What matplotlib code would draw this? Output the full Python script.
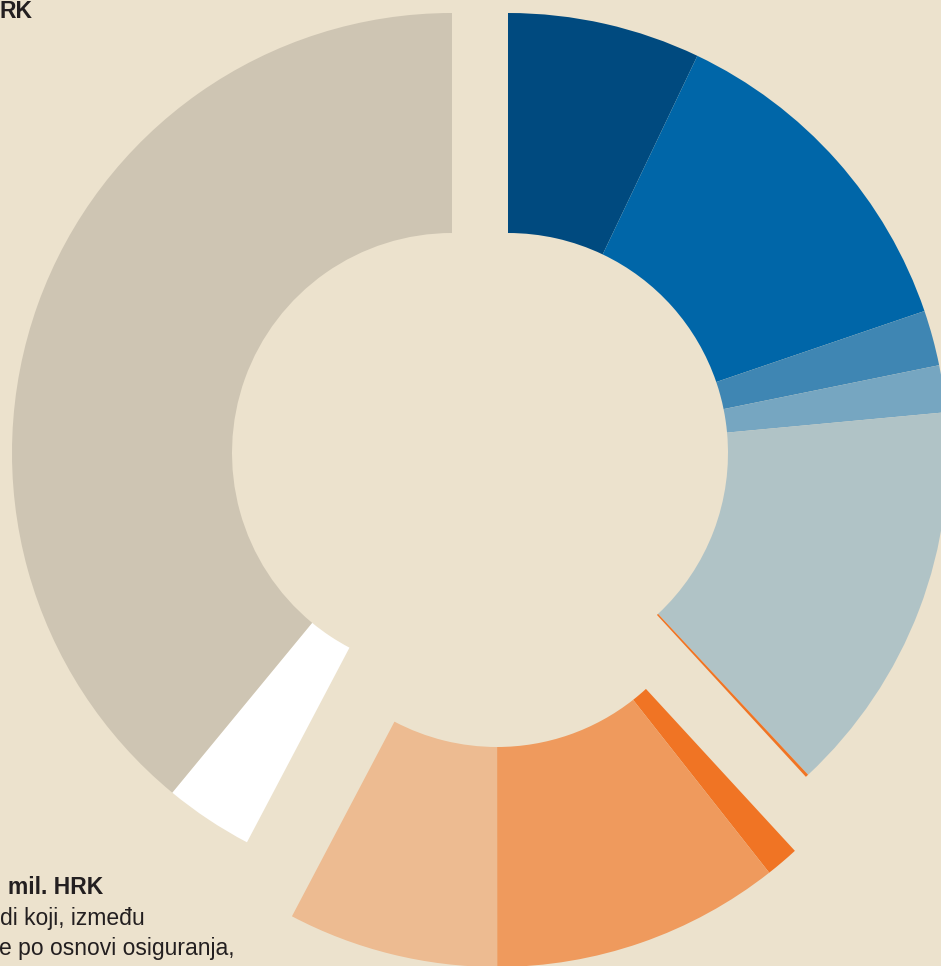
import matplotlib.pyplot as plt
from matplotlib.patches import Wedge

# udjeli (u %), redom u smjeru kazaljke od 12 sati
plava_grupa = [7.08, 12.69, 2.03, 1.72, 14.53, 0.11]
narancasta_grupa = [1.22, 10.61, 7.72]
siva_grupa = [3.25, 39.03]

plave_boje = ['#004a7f', '#0066a8', '#3f86b3', '#76a6c1', '#b0c3c6', '#f07424']
narancaste_boje = ['#f07424', '#ef9a5d', '#edbb91']
sive_boje = ['#ffffff', '#cec5b3']

tekst_gore = "RK"
tekst_dolje = ["mil. HRK", "di koji, između", "e po osnovi osiguranja,"]

bg = '#ece2cd'
W, H = 941, 966

fig = plt.figure(figsize=(W / 100, H / 100), dpi=100)
fig.patch.set_facecolor(bg)
ax = fig.add_axes([0, 0, 1, 1])
ax.set_facecolor(bg)
ax.set_xlim(0, W)
ax.set_ylim(0, H)
ax.set_aspect('equal')
ax.axis('off')

R = 440
sirina = 220
# svaka grupa je malo izmaknuta od sredine
grupe = [
    (plava_grupa, plave_boje, (508, H - 453)),
    (narancasta_grupa, narancaste_boje, (497, H - 527)),
    (siva_grupa, sive_boje, (452, H - 453)),
]

ukupno = sum(sum(g[0]) for g in grupe)
kut = 0.0  # stupnjevi od 12 sati, u smjeru kazaljke
for vrijednosti, boje, centar in grupe:
    for v, c in zip(vrijednosti, boje):
        a1 = kut
        a2 = kut + v / ukupno * 360
        ax.add_patch(Wedge(centar, R, 90 - a2, 90 - a1, width=sirina,
                           facecolor=c, edgecolor='none', lw=0))
        kut = a2

font = ['Liberation Sans', 'DejaVu Sans']
boja_teksta = '#231f20'
ax.text(-1, H - 18, tekst_gore, ha='left', va='baseline', fontsize=16.5,
        fontweight='bold', color=boja_teksta, family=font)
ax.text(8, H - 894, tekst_dolje[0], ha='left', va='baseline', fontsize=16.5,
        fontweight='bold', color=boja_teksta, family=font)
ax.text(0, H - 925, tekst_dolje[1], ha='left', va='baseline', fontsize=16.5,
        color=boja_teksta, family=font)
ax.text(-1, H - 955, tekst_dolje[2], ha='left', va='baseline', fontsize=16.5,
        color=boja_teksta, family=font)

fig.savefig('out.png', dpi=100, facecolor=bg)
